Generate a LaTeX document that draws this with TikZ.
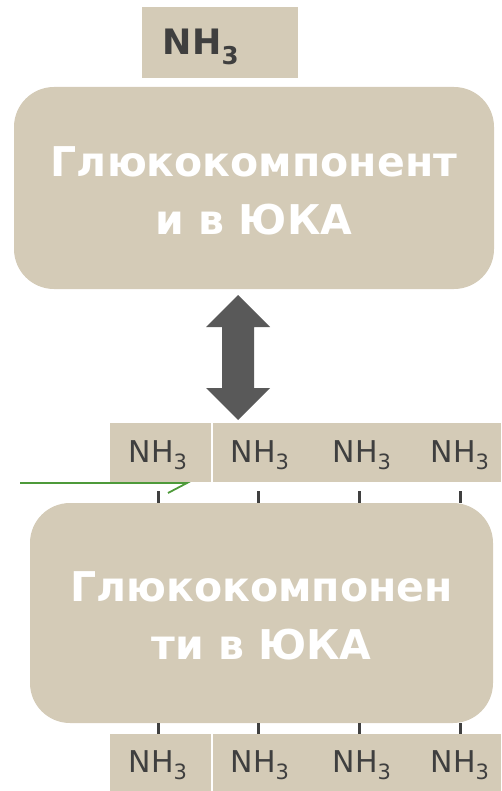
\documentclass[tikz,border=0pt]{standalone}
\usepackage{fontspec}
\setmainfont{DejaVu Sans}
\definecolor{beige}{HTML}{D4CBB7}
\definecolor{arrowgray}{HTML}{595959}
\definecolor{labelgray}{HTML}{3F3F3F}
\definecolor{tickgray}{HTML}{404040}
\definecolor{markgreen}{HTML}{4E9A3A}
\begin{document}
\begin{tikzpicture}[x=1pt,y=-1pt,
  bigbox/.style={fill=beige, rounded corners=40pt, inner sep=0pt, text=white,
    font=\fontsize{41}{58}\selectfont\bfseries, align=center},
  cell/.style={fill=beige, inner sep=0pt},
  nhlabel/.style={text=labelgray, font=\fontsize{30}{32}\selectfont, inner sep=0pt},
  tick/.style={draw=tickgray, line width=3pt},
]
\useasboundingbox (0,0) rectangle (501,791);

% top ammonia tag
\node[cell, minimum width=156pt, minimum height=71pt] (tag) at (220,42.5) {};
\node[text=labelgray, font=\fontsize{35}{36}\selectfont\bfseries, inner sep=0pt]
  (taglabel) at (201,47) {NH\textsubscript{3}};

% upper block
\node[bigbox, minimum width=480pt, minimum height=202pt] (upper) at (254,188) {};
\node[text=white, font=\fontsize{41}{58}\selectfont\bfseries, align=center, inner sep=0pt]
  (uppertext) at (254,191) {Глюкокомпонент\\и в ЮКА};

% double-headed arrow between the blocks
\fill[arrowgray] (238,295) -- (270,327) -- (254,327) -- (254,388) -- (270,388)
  -- (238,420) -- (206,388) -- (222,388) -- (222,327) -- (206,327) -- cycle;

% upper row of ammonia cells
\node[cell, minimum width=101pt, minimum height=59pt] (rowAa) at (160.5,452.5) {};
\node[cell, minimum width=288pt, minimum height=59pt] (rowAb) at (357,452.5) {};
\node[nhlabel] (a1) at (158,455) {NH\textsubscript{3}};
\node[nhlabel] (a2) at (260,455) {NH\textsubscript{3}};
\node[nhlabel] (a3) at (362,455) {NH\textsubscript{3}};
\node[nhlabel] (a4) at (460,455) {NH\textsubscript{3}};

% green marker arrow
\coordinate (gstart) at (20,483);
\coordinate (gend) at (187,483);
\draw[markgreen, line width=1.8pt] (gstart) -- (gend) -- ++(-19,10);

% lower block
\node[bigbox, minimum width=463pt, minimum height=220pt] (lower) at (261.5,613) {};
\node[text=white, font=\fontsize{41}{58}\selectfont\bfseries, align=center, inner sep=0pt]
  (lowertext) at (261.5,616) {Глюкокомпонен\\ти в ЮКА};

% lower row of ammonia cells
\node[cell, minimum width=101pt, minimum height=57pt] (rowBa) at (160.5,762.5) {};
\node[cell, minimum width=288pt, minimum height=57pt] (rowBb) at (357,762.5) {};
\node[nhlabel] (b1) at (158,765) {NH\textsubscript{3}};
\node[nhlabel] (b2) at (260,765) {NH\textsubscript{3}};
\node[nhlabel] (b3) at (362,765) {NH\textsubscript{3}};
\node[nhlabel] (b4) at (460,765) {NH\textsubscript{3}};

% bonds between the blocks and the cells
\foreach \x in {158,258,359,460}{
  \draw[tick] (lower.north -| \x,0) -- ++(0,-12);
  \draw[tick] (lower.south -| \x,0) -- ++(0,11);
}
\end{tikzpicture}
\end{document}
